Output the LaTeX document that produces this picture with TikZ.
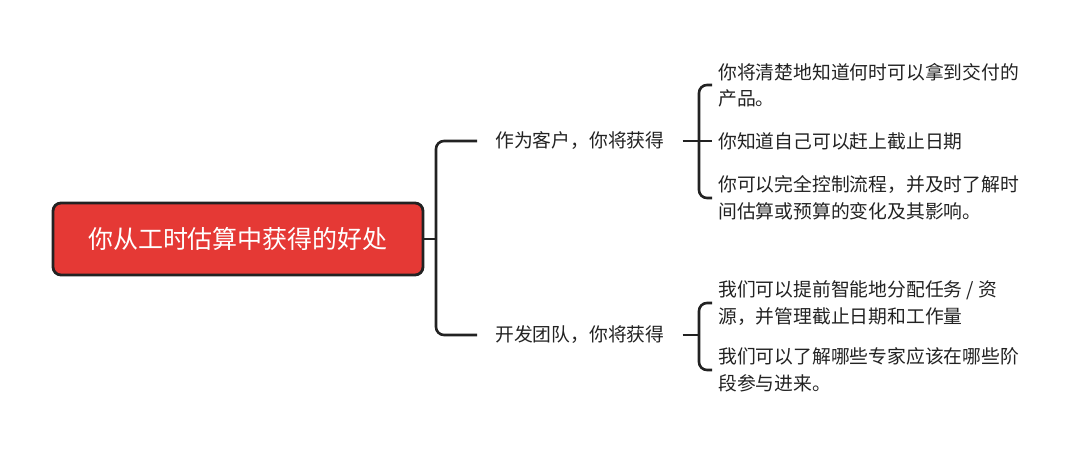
\documentclass[tikz,border=0pt]{standalone}
\usepackage{fontspec}
\setmainfont{Noto Sans CJK SC}
\usetikzlibrary{calc}
\definecolor{rootred}{HTML}{E53935}
\definecolor{ink}{HTML}{222222}
\begin{document}
\begin{tikzpicture}[x=1pt,y=-1pt,
  conn/.style={draw=ink,line width=2.6pt,rounded corners=8pt},
  rootbox/.style={draw=ink,line width=2.8pt,fill=rootred,rounded corners=8pt,minimum width=370pt,minimum height=72pt,text=white,font=\fontsize{25}{30}\selectfont,inner sep=0pt},
  branch/.style={anchor=west,inner sep=0pt,text=ink,font=\fontsize{18.8}{26.5}\selectfont},
  leaf/.style={anchor=west,inner sep=0pt,text=ink,align=left,font=\fontsize{18.8}{26.5}\selectfont}]
\useasboundingbox (0,0) rectangle (1080,454);
\node[rootbox] (root) at (238,239) {你从工时估算中获得的好处};
\node[branch] (c1) at (495,141) {作为客户，你将获得};
\node[branch] (c2) at (495,335) {开发团队，你将获得};
\node[leaf] (l1) at (718,85) {你将清楚地知道何时可以拿到交付的\\产品。};
\node[leaf] (l2) at (718,141) {你知道自己可以赶上截止日期};
\node[leaf] (l3) at (718,198) {你可以完全控制流程，并及时了解时\\间估算或预算的变化及其影响。};
\node[leaf] (l4) at (718,303) {我们可以提前智能地分配任务 / 资\\源，并管理截止日期和工作量};
\node[leaf] (l5) at (718,370) {我们可以了解哪些专家应该在哪些阶\\段参与进来。};
\coordinate (j0) at (436,239);
\coordinate (k1) at (699,141);
\coordinate (k2) at (699,335);
\draw[conn] (root.east) -- (j0);
\draw[conn] ($(c1.west)+(-18,0)$) -| (j0) |- ($(c2.west)+(-18,0)$);
\draw[conn] ($(c1.east)+(18,0)$) -- (k1);
\draw[conn] ($(l1.west)+(-6,0)$) -| (k1) |- ($(l3.west)+(-6,0)$);
\draw[conn] (k1) -- ($(l2.west)+(-6,0)$);
\draw[conn] ($(c2.east)+(18,0)$) -- (k2);
\draw[conn] ($(l4.west)+(-6,0)$) -| (k2) |- ($(l5.west)+(-6,0)$);
\end{tikzpicture}
\end{document}
